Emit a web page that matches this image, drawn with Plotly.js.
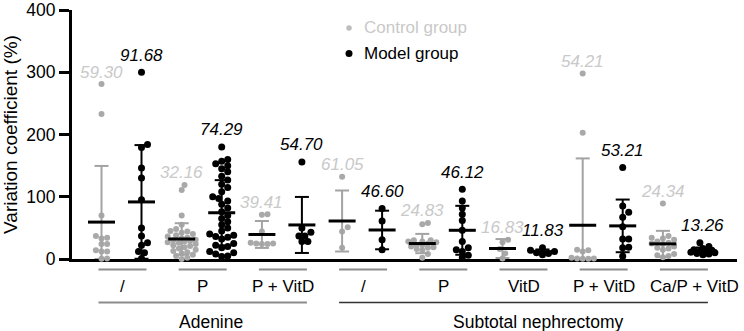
<!DOCTYPE html>
<html>
<head>
<meta charset="utf-8">
<script src="https://cdn.plot.ly/plotly-3.0.1.min.js"></script>
<style>
  html, body { margin: 0; padding: 0; background: #ffffff; }
  #chart { width: 744px; height: 331px; }
</style>
</head>
<body>
<div id="chart"></div>
<script>
// Treatment under each pair of columns, and the CKD model each treatment belongs to
const treatments = ['/', 'P', 'P + VitD', '/', 'P', 'VitD', 'P + VitD', 'Ca/P + VitD'];
const ckdModels = ['Adenine', 'Subtotal nephrectomy'];
const ckdModelFirst = [0, 3];
const ckdModelLast = [2, 7];

// Variation coefficient (%) of each animal
const controlValues = [
  [281, 233, 70, 37, 34, 33, 24, 24, 14, 12, 12, 1, 0.5],
  [119, 111, 70, 55, 48, 45, 44, 42, 40, 38, 36, 34, 33, 31, 30, 29, 28, 27, 26, 24, 22, 21, 19, 17, 15, 13, 11, 9, 7, 5, 2, 0],
  [72, 71, 44, 26, 25, 25, 24, 24],
  [132, 51, 44, 18],
  [58, 56, 30, 30, 28, 28, 27, 25, 23, 22, 20, 19, 18, 16, 14, 8, 2],
  [31, 27, 16, 9, 1],
  [298, 203, 15, 14, 12, 2, 1, 1, 0.5, 0.5],
  [89, 37, 34, 33, 31, 28, 26, 25, 24, 20, 18, 17, 15, 8, 6, 5, 3]
];
const modelValues = [
  [300, 184, 179, 146, 130, 95, 50, 37, 26, 22, 12, 10, 1],
  [180, 160, 157, 153, 150, 145, 140, 133, 127, 120, 115, 108, 100, 97, 93, 88, 82, 76, 70, 65, 60, 55, 50, 45, 40, 38, 36, 35, 32, 25, 22, 20, 18, 12, 10, 8, 5, 4],
  [156, 50, 43, 37, 37, 28, 28],
  [81, 61, 31, 15],
  [112, 93, 82, 72, 62, 46, 28, 18, 15, 12, 6, 2],
  [18, 14, 12, 10, 9, 7],
  [147, 85, 75, 67, 52, 32, 32, 19, 18, 4.5],
  [26, 20, 17, 15, 14, 13, 12, 11, 10, 9, 8, 7]
];

// Group means (printed above each column) and standard deviations
const controlMean = [59.30, 32.16, 39.41, 61.05, 24.83, 16.83, 54.21, 24.34];
const controlSD = [90.2, 25.3, 21.6, 49.0, 15.5, 15.2, 107.4, 20.9];
const modelMean = [91.68, 74.29, 54.70, 46.60, 46.12, 11.83, 53.21, 13.26];
const modelSD = [91.3, 52.4, 45.0, 31.0, 39.3, 3.5, 42.3, 5.2];

const yTicks = [0, 100, 200, 300, 400];
const seriesNames = ['Control group', 'Model group'];

// ---- geometry ----
const W = 744, H = 331;
const M = { l: 72, r: 7, t: 10, b: 71.5 };
const plotW = W - M.l - M.r;
const plotH = H - M.t - M.b;
const PX_X = 80.2;                  // pixels per group
const firstCenterPx = 121.5 - M.l;  // first group centre inside plot area
const xRange = [-firstCenterPx / PX_X, (plotW - firstCenterPx) / PX_X];
const yRange = [0, 400];
const PX_Y = plotH / (yRange[1] - yRange[0]);
const pairOffset = 20 / PX_X;       // control left, model right of group centre
const meanHalf = 13.5 / PX_X;
const capHalf = 7 / PX_X;

const GRAY_DOT = '#a9a9a9';
const GRAY_BAR = '#a3a3a3';
const GRAY_TEXT = '#c9c9c9';
const FONT = 'Liberation Sans, Arial, Helvetica, sans-serif';

// Beeswarm placement: horizontal pixel offsets that keep dots apart,
// never wider than maxOff (dense clusters are allowed to overlap)
function swarm(vals, dist, maxOff) {
  const order = vals.map((v, i) => i).sort((a, b) => vals[a] - vals[b]);
  const placed = [];
  const out = new Array(vals.length).fill(0);
  const step = dist / 2;
  const kMax = 2 * Math.floor(maxOff / step);
  for (const i of order) {
    const y = vals[i] * PX_Y;
    let best = 0, bestGap = -1;
    for (let k = 0; k <= kMax; k++) {
      const cand = (k % 2 === 1 ? 1 : -1) * Math.ceil(k / 2) * step;
      const gap = placed.length ? Math.min(...placed.map(p => Math.hypot(p.x - cand, p.y - y))) : Infinity;
      if (gap >= dist) { best = cand; bestGap = gap; break; }
      if (gap > bestGap + 0.5) { best = cand; bestGap = gap; }
    }
    placed.push({ x: best, y });
    out[i] = best;
  }
  return out;
}

function pointTrace(values, side, color, size, dist, maxOff, name) {
  const xs = [], ys = [];
  values.forEach((vals, g) => {
    const off = swarm(vals, dist, maxOff);
    vals.forEach((v, j) => {
      xs.push(g + side * pairOffset + off[j] / PX_X);
      ys.push(v);
    });
  });
  return {
    type: 'scatter', mode: 'markers', name: name, x: xs, y: ys,
    marker: { color: color, size: size, line: { width: 0 } },
    cliponaxis: false, hoverinfo: 'skip', showlegend: false
  };
}

function sdTrace(means, sds, side, color) {
  const xs = [], ys = [];
  means.forEach((m, g) => {
    const cx = g + side * pairOffset;
    const lo = Math.max(0, m - sds[g]);
    const hi = m + sds[g];
    xs.push(cx, cx, null, cx - capHalf, cx + capHalf, null, cx - capHalf, cx + capHalf, null);
    ys.push(lo, hi, null, hi, hi, null, lo, lo, null);
  });
  return {
    type: 'scatter', mode: 'lines', x: xs, y: ys,
    line: { color: color, width: 2 }, cliponaxis: false,
    hoverinfo: 'skip', showlegend: false
  };
}

function meanTrace(means, side) {
  const xs = [], ys = [];
  means.forEach((m, g) => {
    const cx = g + side * pairOffset;
    xs.push(cx - meanHalf, cx + meanHalf, null);
    ys.push(m, m, null);
  });
  return {
    type: 'scatter', mode: 'lines', x: xs, y: ys,
    line: { color: '#000000', width: 3 }, cliponaxis: false,
    hoverinfo: 'skip', showlegend: false
  };
}

const traces = [
  pointTrace(controlValues, -1, GRAY_DOT, 6, 5.6, 14, seriesNames[0]),
  pointTrace(modelValues, 1, '#000000', 7, 6, 12, seriesNames[1]),
  sdTrace(controlMean, controlSD, -1, GRAY_BAR),
  meanTrace(controlMean, -1),
  sdTrace(modelMean, modelSD, 1, '#000000'),
  meanTrace(modelMean, 1)
];

const annotations = [];
const shapes = [];

// Mean values above each column
controlMean.forEach((m, g) => {
  annotations.push({
    x: g - pairOffset, y: Math.max(...controlValues[g]), xref: 'x', yref: 'y',
    text: m.toFixed(2), showarrow: false, yshift: 12, yanchor: 'middle',
    font: { family: FONT, size: 17, color: GRAY_TEXT, style: 'italic' }
  });
});
modelMean.forEach((m, g) => {
  annotations.push({
    x: g + pairOffset, y: Math.max(...modelValues[g]), xref: 'x', yref: 'y',
    text: m.toFixed(2), showarrow: false, yshift: 17, yanchor: 'middle',
    font: { family: FONT, size: 17, color: '#000000', style: 'italic' }
  });
});

// Treatment labels with their underline (the long last label sits a little to the right)
treatments.forEach((t, g) => {
  shapes.push({
    type: 'line', xref: 'x', yref: 'paper', ysizemode: 'pixel', yanchor: 0,
    x0: g - 23 / PX_X, x1: g + 25 / PX_X, y0: -10.5, y1: -10.5,
    line: { color: '#8c8c8c', width: 2 }
  });
  annotations.push({
    x: g + 1 / PX_X, y: 0, xref: 'x', yref: 'paper', yshift: -27.5, yanchor: 'middle',
    xshift: g === treatments.length - 1 ? 11 : 0,
    text: t, showarrow: false, font: { family: FONT, size: 17, color: '#000000' }
  });
});

// CKD model brackets
const modelLabelX = [1.11, 5.19];
ckdModels.forEach((name, k) => {
  shapes.push({
    type: 'line', xref: 'x', yref: 'paper', ysizemode: 'pixel', yanchor: 0,
    x0: ckdModelFirst[k] - 23 / PX_X, x1: ckdModelLast[k] + 25 / PX_X, y0: -43.5, y1: -43.5,
    line: { color: k === 0 ? '#8c8c8c' : '#333333', width: k === 0 ? 2 : 1.5 }
  });
  annotations.push({
    x: modelLabelX[k], y: 0, xref: 'x', yref: 'paper', yshift: -62.5, yanchor: 'middle',
    text: name, showarrow: false, font: { family: FONT, size: 17.5, color: '#000000' }
  });
});

// Legend
const legendColors = [['#bdbdbd', GRAY_TEXT, 5.5], ['#000000', '#000000', 7]];
seriesNames.forEach((name, k) => {
  const ypx = k === 0 ? 28 : 53.5;
  const yp = (M.t + plotH - ypx) / plotH;
  const xp = (349 - M.l) / plotW;
  const r = legendColors[k][2] / 2;
  shapes.push({
    type: 'circle', xref: 'paper', yref: 'paper', xsizemode: 'pixel', ysizemode: 'pixel',
    xanchor: xp, yanchor: yp, x0: -r, x1: r, y0: -r, y1: r,
    fillcolor: legendColors[k][0], line: { width: 0 }
  });
  annotations.push({
    x: (362 - M.l) / plotW, y: yp, xref: 'paper', yref: 'paper', xanchor: 'left', yanchor: 'middle',
    text: name, showarrow: false, font: { family: FONT, size: 17, color: legendColors[k][1] }
  });
});

const layout = {
  width: W, height: H,
  margin: M,
  paper_bgcolor: '#ffffff', plot_bgcolor: '#ffffff',
  showlegend: false,
  font: { family: FONT, color: '#000000' },
  xaxis: {
    range: xRange, showgrid: false, zeroline: false, showticklabels: false, ticks: '',
    showline: true, linecolor: '#000000', linewidth: 3, layer: 'below traces', fixedrange: true
  },
  yaxis: {
    range: yRange, tickvals: yTicks, ticktext: yTicks.map(String),
    showgrid: false, zeroline: false, showline: true, linecolor: '#000000', linewidth: 3,
    ticks: 'outside', ticklen: 10, tickwidth: 3, tickcolor: '#000000',
    tickfont: { family: FONT, size: 17.5, color: '#000000' },
    ticklabeloverflow: 'allow',
    title: { text: 'Variation coefficient (%)', font: { family: FONT, size: 19, color: '#000000' }, standoff: 9 },
    layer: 'below traces', fixedrange: true
  },
  shapes: shapes,
  annotations: annotations
};

Plotly.newPlot('chart', traces, layout, { displayModeBar: false, staticPlot: true });
</script>
</body>
</html>
